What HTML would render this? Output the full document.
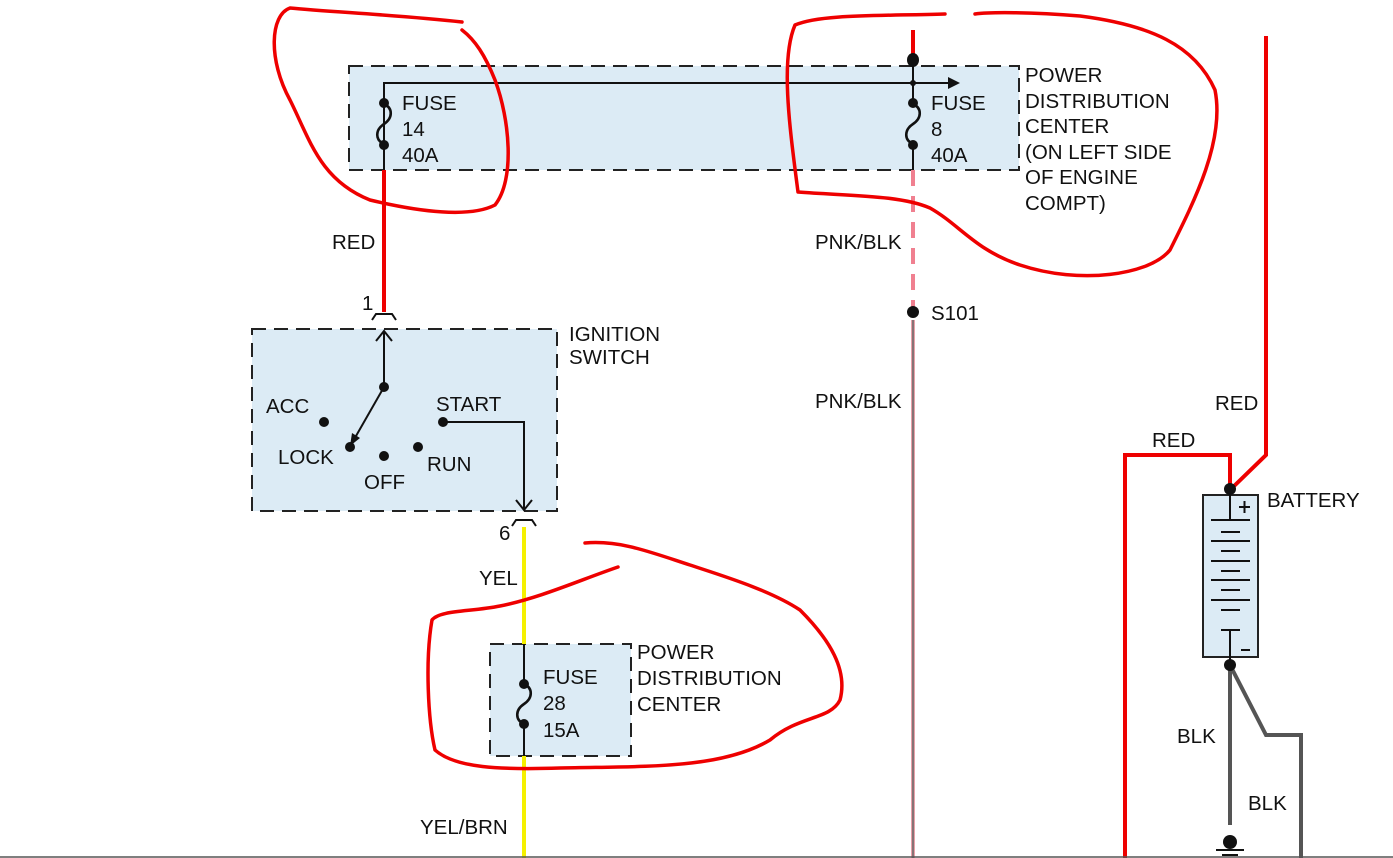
<!DOCTYPE html>
<html><head><style>
html,body{margin:0;padding:0;background:#fff;}
svg{display:block;}
text{font-family:"Liberation Sans",Arial,sans-serif;font-size:20.5px;fill:#111;}
</style></head><body>
<svg width="1393" height="858" viewBox="0 0 1393 858" xmlns="http://www.w3.org/2000/svg">
<g fill="#dcebf5" stroke="#222" stroke-width="2" stroke-dasharray="14,8">
<rect x="349" y="66" width="670" height="104"/>
<rect x="252" y="329" width="305" height="182"/>
<rect x="490" y="644" width="141" height="112"/>
</g>
<rect x="1203" y="495" width="55" height="162" fill="#dcebf5" stroke="#222" stroke-width="2"/>
<g stroke="#111" stroke-width="2">
<line x1="1230" y1="490" x2="1230" y2="520"/>
<line x1="1211" y1="520" x2="1250" y2="520"/>
<line x1="1221" y1="532" x2="1240" y2="532"/>
<line x1="1211" y1="541" x2="1250" y2="541"/>
<line x1="1221" y1="551" x2="1240" y2="551"/>
<line x1="1211" y1="561" x2="1250" y2="561"/>
<line x1="1221" y1="571" x2="1240" y2="571"/>
<line x1="1211" y1="580" x2="1250" y2="580"/>
<line x1="1221" y1="590" x2="1240" y2="590"/>
<line x1="1211" y1="600" x2="1250" y2="600"/>
<line x1="1221" y1="610" x2="1240" y2="610"/>
<line x1="1230" y1="630" x2="1230" y2="662"/>
<line x1="1221" y1="630" x2="1240" y2="630"/>
<line x1="1239" y1="507" x2="1250" y2="507"/><line x1="1244.5" y1="501" x2="1244.5" y2="513"/>
<line x1="1241" y1="650" x2="1250" y2="650"/>
</g>
<text x="1267" y="507">BATTERY</text>
<g fill="none">
<line x1="384" y1="170" x2="384" y2="312" stroke="#e00" stroke-width="4"/>
<line x1="913" y1="30" x2="913" y2="60" stroke="#e00" stroke-width="4"/>
<line x1="913" y1="170" x2="913" y2="310" stroke="#f08090" stroke-width="4" stroke-dasharray="16,10"/>
<line x1="913" y1="320" x2="913" y2="858" stroke="#e8a0a8" stroke-width="4"/>
<line x1="913" y1="320" x2="913" y2="858" stroke="#666" stroke-width="1.5"/>
<line x1="524" y1="527" x2="524" y2="644" stroke="#f5f000" stroke-width="4"/>
<line x1="524" y1="756" x2="524" y2="858" stroke="#f5f000" stroke-width="4"/>
<polyline points="1266,36 1266,455 1230,490" stroke="#e00" stroke-width="4"/>
<polyline points="1125,858 1125,455 1230,455 1230,490" stroke="#e00" stroke-width="4"/>
<line x1="1230" y1="665" x2="1230" y2="825" stroke="#555" stroke-width="4"/>
<polyline points="1230,665 1266,735 1301,735 1301,858" stroke="#555" stroke-width="4"/>
</g>
<circle cx="1230" cy="489" r="6" fill="#111"/>
<circle cx="1230" cy="665" r="6" fill="#111"/>
<circle cx="1230" cy="842" r="7" fill="#111"/>
<line x1="1216" y1="850" x2="1244" y2="850" stroke="#111" stroke-width="2"/>
<line x1="1222" y1="855" x2="1238" y2="855" stroke="#111" stroke-width="2"/>
<line x1="0" y1="857" x2="1393" y2="857" stroke="#555" stroke-width="1.5"/>
<g stroke="#111" stroke-width="2" fill="none">
<polyline points="384,170 384,83 955,83"/>
<line x1="913" y1="60" x2="913" y2="104"/>
<line x1="913" y1="144" x2="913" y2="170"/>
<line x1="384" y1="144" x2="384" y2="170"/>
<line x1="384" y1="83" x2="384" y2="104"/>
<line x1="524" y1="644" x2="524" y2="684"/>
<line x1="524" y1="724" x2="524" y2="756"/>
</g>
<g stroke="#111" stroke-width="2.6" fill="none">
<path d="M384,104 C393,108 393,118 384,124 C375,130 375,140 384,144"/>
<path d="M913,104 C922,108 922,118 913,124 C904,130 904,140 913,144"/>
<path d="M524,684 C533,688 533,698 524,704 C515,710 515,720 524,724"/>
</g>
<polygon points="960,83 948,77 948,89" fill="#111"/>
<g fill="#111">
<ellipse cx="913" cy="60" rx="6" ry="7"/><circle cx="913" cy="83" r="3"/>
<circle cx="384" cy="103" r="5"/><circle cx="384" cy="145" r="5"/>
<circle cx="913" cy="103" r="5"/><circle cx="913" cy="145" r="5"/>
<circle cx="524" cy="684" r="5"/><circle cx="524" cy="724" r="5"/>
<circle cx="913" cy="312" r="6"/>
</g>
<text x="402" y="110">FUSE</text><text x="402" y="136">14</text><text x="402" y="162">40A</text>
<text x="931" y="110">FUSE</text><text x="931" y="136">8</text><text x="931" y="162">40A</text>
<text x="543" y="684">FUSE</text><text x="543" y="710">28</text><text x="543" y="737">15A</text>
<text x="1025" y="82">POWER</text><text x="1025" y="108">DISTRIBUTION</text><text x="1025" y="133">CENTER</text>
<text x="1025" y="159">(ON LEFT SIDE</text><text x="1025" y="184">OF ENGINE</text><text x="1025" y="210">COMPT)</text>
<text x="637" y="659">POWER</text><text x="637" y="685">DISTRIBUTION</text><text x="637" y="711">CENTER</text>
<text x="332" y="249">RED</text>
<text x="815" y="249">PNK/BLK</text>
<text x="931" y="320">S101</text>
<text x="815" y="408">PNK/BLK</text>
<text x="1215" y="410">RED</text>
<text x="1152" y="447">RED</text>
<text x="1177" y="743">BLK</text>
<text x="1248" y="810">BLK</text>
<text x="479" y="585">YEL</text>
<text x="420" y="834">YEL/BRN</text>
<text x="569" y="341">IGNITION</text><text x="569" y="364">SWITCH</text>
<text x="362" y="310">1</text>
<text x="499" y="540">6</text>
<g stroke="#111" stroke-width="2" fill="none">
<path d="M372,320 L376,314 L392,314 L396,320"/>
<path d="M512,526 L516,520 L532,520 L536,526"/>
<line x1="384" y1="331" x2="384" y2="387"/>
<polyline points="376,341 384,331 392,341"/>
<line x1="384" y1="387" x2="352" y2="443"/>
<polyline points="444,422 524,422 524,510"/>
<polyline points="516,500 524,510 532,500"/>
</g>
<polygon points="350,446 352,433 360,438" fill="#111"/>
<g fill="#111">
<circle cx="384" cy="387" r="5"/><circle cx="324" cy="422" r="5"/><circle cx="350" cy="447" r="5"/>
<circle cx="384" cy="456" r="5"/><circle cx="418" cy="447" r="5"/><circle cx="443" cy="422" r="5"/>
</g>
<text x="266" y="413">ACC</text>
<text x="278" y="464">LOCK</text>
<text x="364" y="489">OFF</text>
<text x="427" y="471">RUN</text>
<text x="436" y="411">START</text>
<g fill="none" stroke="#e00" stroke-width="3.5" stroke-linecap="round" stroke-linejoin="round">
<path d="M462,22 C400,15 330,12 290,8 C270,15 268,60 290,100 C310,140 320,180 370,200 C420,212 470,218 495,205 C515,180 510,120 495,80 C485,55 475,40 462,30"/>
<path d="M945,14 C880,16 820,14 795,25 C780,60 790,130 798,192 C850,196 900,195 930,208 C960,225 975,250 1020,265 C1080,285 1150,275 1170,250 C1195,200 1225,140 1215,90 C1195,45 1150,25 1080,16 C1030,12 990,12 975,14"/>
<path d="M618,567 C580,580 540,598 500,606 C470,612 440,610 432,620 C425,660 428,720 435,750 C455,768 500,770 560,768 C640,766 720,770 770,740 C800,715 830,720 840,700 C848,670 830,640 800,610 C770,590 720,575 690,565 C650,552 620,540 585,543"/>
</g>
</svg>
</body></html>
